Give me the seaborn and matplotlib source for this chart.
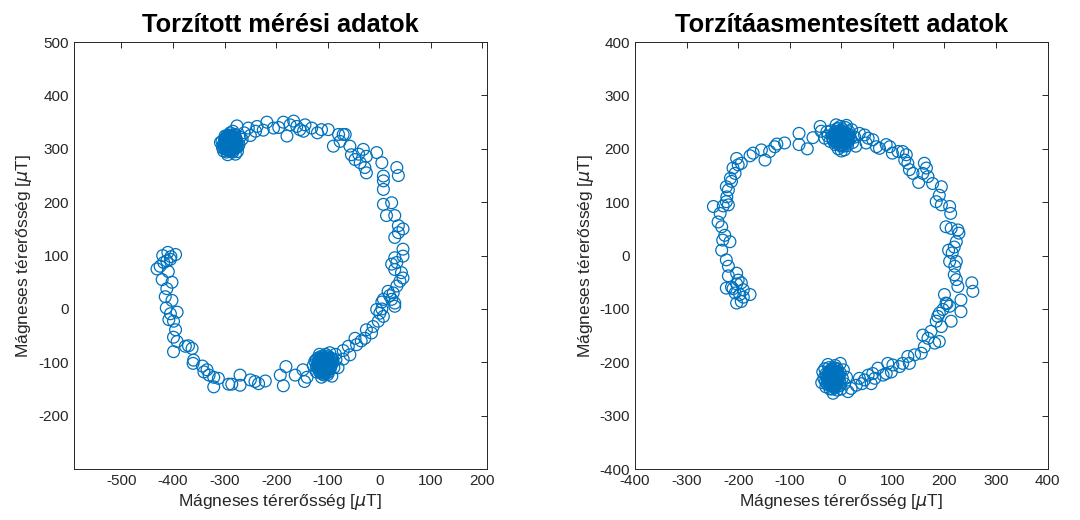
import seaborn as sns
import pandas as pd
import matplotlib.pyplot as plt

left_arc = [
    (-431, 75), (-418, 87), (-405, 93), (-421, 55), (-402, 50), (-412, 38), (-415, 23),
    (-402, 16), (-413, 2), (-405, -9), (-392, -6), (-408, -20), (-399, -23), (-395, -39),
    (-399, -53), (-392, -61), (-399, -80), (-376, -70), (-370, -69), (-363, -74),
    (-360, -96), (-361, -102), (-343, -107), (-340, -118), (-334, -114), (-330, -124),
    (-321, -128), (-321, -146), (-312, -130), (-292, -141), (-286, -141), (-270, -124),
    (-270, -143), (-250, -133), (-241, -136), (-234, -140), (-221, -135), (-192, -124),
    (-181, -108), (-186, -144), (-163, -124), (-148, -114), (-145, -136), (-140, -128),
    (-420, 100), (-410, 106), (-404, 98), (-395, 102), (-412, 90), (-425, 80), (-409, 70),
    (-70, -78), (-70, -94), (-57, -86), (-60, -70), (-47, -55), (-44, -67), (-28, -55),
    (-25, -39), (-12, -33), (-2, -23), (1, -8), (-5, -1), (8, -14), (5, 13), (8, 18),
    (17, 33), (27, 30), (30, 11), (30, 5), (24, 18), (34, 43), (40, 52), (46, 58),
    (43, 68), (24, 84), (34, 87), (30, 74), (-85, -85), (-80, -110), (-90, -95),
    (-35, -60), (-15, -45), (5, 0), (20, 25),
    (30, 96), (46, 99), (46, 112), (37, 143), (30, 134), (46, 150), (37, 156), (30, 175),
    (14, 175), (24, 199), (8, 196), (8, 224), (8, 240), (8, 249), (37, 250), (34, 265),
    (-25, 255), (5, 274), (-5, 293), (-25, 286), (-28, 265), (-37, 274), (-31, 299),
    (-47, 280), (-54, 289), (-57, 305), (-66, 327), (-76, 314), (-89, 305), (-70, 327),
    (-79, 327), (-99, 336), (-112, 336), (-147, 333), (-131, 339), (-144, 345),
    (-154, 336), (-166, 352), (-179, 324), (-173, 345), (-186, 350), (-205, 339),
    (-218, 350), (-237, 342), (-254, 339), (-276, 343), (-262, 330), (-250, 325),
    (-240, 333), (-225, 335), (-195, 340), (-160, 342), (-120, 330), (-40, 290),
]
left_blob_a = [
    (-300, 318), (-295, 322), (-290, 325), (-285, 320), (-280, 316), (-298, 310),
    (-292, 313), (-286, 309), (-282, 305), (-276, 312), (-305, 314), (-300, 306),
    (-294, 303), (-288, 300), (-283, 298), (-278, 302), (-272, 308), (-302, 296),
    (-296, 294), (-290, 298), (-284, 294), (-279, 290), (-293, 318), (-287, 316),
    (-281, 326), (-297, 300), (-291, 308), (-285, 311), (-308, 312), (-270, 322),
    (-289, 330), (-284, 333), (-294, 289), (-280, 327), (-299, 324), (-286, 305),
    (-275, 295), (-292, 315), (-266, 318), (-304, 302),
    (-289, 312), (-293, 310), (-285, 314), (-289, 307), (-289, 317), (-296, 313),
    (-282, 311), (-291, 304), (-287, 320), (-294, 306), (-284, 318), (-298, 316),
    (-280, 308), (-288, 303), (-290, 321), (-286, 299), (-295, 298), (-281, 300),
    (-301, 311), (-277, 318), (-292, 326), (-283, 323), (-297, 320), (-279, 321),
    (-303, 307), (-274, 304), (-288, 295), (-300, 300), (-278, 312), (-296, 324),
    (-291, 311), (-287, 313), (-290, 309), (-288, 315), (-292, 317), (-286, 307),
    (-294, 312), (-284, 310), (-290, 302), (-288, 319), (-297, 308), (-281, 315),
    (-293, 322), (-283, 304), (-299, 313), (-279, 311), (-289, 323), (-287, 297),
    (-295, 317), (-282, 319), (-298, 304), (-276, 307), (-291, 299), (-285, 325),
]
left_blob_b = [
    (-112, -102), (-106, -98), (-100, -95), (-118, -100), (-110, -90), (-104, -108),
    (-96, -104), (-115, -112), (-108, -115), (-100, -112), (-122, -108), (-94, -92),
    (-113, -94), (-107, -105), (-101, -100), (-119, -92), (-110, -122), (-98, -118),
    (-125, -98), (-90, -100), (-104, -85), (-116, -85), (-96, -82), (-112, -128),
    (-122, -118), (-88, -110), (-106, -92), (-102, -120), (-128, -106), (-92, -126),
    (-117, -105), (-109, -98), (-99, -108), (-84, -95), (-114, -120),
    (-106, -103), (-110, -106), (-103, -99), (-108, -110), (-101, -105), (-112, -98),
    (-105, -113), (-98, -100), (-114, -108), (-107, -95), (-111, -115), (-97, -110),
    (-116, -96), (-103, -92), (-109, -118), (-95, -97), (-119, -110), (-102, -116),
    (-113, -89), (-99, -88), (-120, -103), (-93, -106), (-106, -120), (-117, -116),
    (-100, -123), (-91, -94), (-122, -95), (-104, -104), (-108, -100), (-111, -111),
    (-107, -104), (-105, -101), (-109, -107), (-103, -106), (-110, -102), (-104, -97),
    (-112, -109), (-100, -102), (-106, -111), (-108, -96), (-115, -104), (-97, -104),
    (-102, -109), (-113, -99), (-105, -117), (-99, -95), (-117, -110), (-95, -112),
    (-110, -93), (-101, -90), (-118, -97), (-94, -100), (-107, -124), (-114, -115),
]

right_arc = [
    (-248, 92), (-235, 79), (-239, 63), (-232, 54), (-226, 38), (-230, 29), (-216, 26),
    (-232, 10), (-223, 101), (-219, 95), (-229, 93), (-219, 123), (-223, 129),
    (-213, 139), (-206, 154), (-210, 164), (-203, 182), (-194, 173), (-177, 187),
    (-171, 192), (-155, 198), (-148, 179), (-139, 195), (-129, 204), (-125, 209),
    (-110, 211), (-82, 229), (-82, 208), (-66, 200), (-55, 221), (-41, 242),
    (-39, 233), (-32, 220), (35, 229), (45, 226), (52, 220), (48, 211), (61, 217),
    (68, 204), (74, 201), (87, 208), (94, 204), (99, 192), (110, 195), (119, 195),
    (126, 189), (123, 179), (129, 173), (132, 161), (139, 154), (150, 137), (158, 154),
    (161, 173), (165, 164), (168, 148), (177, 135), (194, 129), (190, 113), (184, 101),
    (194, 95), (210, 92), (212, 79), (203, 54), (213, 51), (226, 48), (223, 26),
    (219, 16), (208, 10), (228, 42), (-215, 145), (-200, 170), (-222, 110),
    (-223, -8), (-219, -20), (-219, -38), (-203, -33), (-200, -46), (-223, -61),
    (-213, -59), (-203, -53), (-194, -51), (-206, -70), (-197, -73), (-177, -73),
    (-190, -64), (-203, -89), (-194, -86), (-190, -78), (-210, -62),
    (210, -11), (223, -11), (219, -36), (223, -45), (226, -58), (232, -83),
    (232, -105), (253, -51), (255, -67), (200, -73), (203, -89), (210, -95),
    (197, -101), (213, -123), (190, -108), (187, -114), (184, -123), (194, -133),
    (190, -161), (181, -164), (174, -142), (168, -155), (158, -149), (161, -171),
    (155, -183), (142, -186), (129, -189), (132, -202), (119, -202), (113, -208),
    (100, -205), (90, -202), (97, -218), (87, -221), (81, -224), (71, -211),
    (61, -221), (58, -240), (52, -224), (45, -233), (35, -230), (29, -243),
    (19, -249), (13, -255), (205, -90), (220, -20), (215, 5), (40, -240), (65, -230),
]
right_blob_a = [
    (0, 223), (-6, 228), (6, 226), (-10, 218), (10, 215), (-4, 212), (4, 232),
    (-14, 230), (14, 228), (-18, 222), (18, 220), (-8, 238), (8, 240), (0, 205),
    (-12, 208), (12, 206), (-22, 214), (22, 212), (-2, 242), (-20, 234), (20, 236),
    (-6, 200), (6, 198), (-26, 224), (26, 222), (2, 218), (-3, 226), (5, 210),
    (-15, 215), (15, 232), (0, 196), (-28, 232), (28, 205), (10, 244), (-10, 245),
    (0, 220), (-4, 222), (4, 219), (-2, 216), (2, 226), (-7, 215), (7, 223),
    (-9, 225), (9, 217), (-1, 230), (1, 211), (-12, 220), (12, 221), (-5, 233),
    (5, 205), (-8, 210), (8, 230), (-14, 224), (14, 214), (-3, 207), (3, 236),
    (-16, 218), (16, 226), (-10, 232), (10, 210), (-6, 238), (6, 214),
    (1, 222), (-2, 224), (3, 220), (-1, 218), (0, 227), (-5, 219), (5, 224),
    (-3, 229), (3, 214), (-7, 222), (7, 218), (-4, 214), (4, 228), (-9, 228),
    (9, 224), (-11, 214), (11, 226), (-2, 235), (2, 208), (-12, 226), (12, 216),
]
right_blob_b = [
    (-16, -227), (-22, -222), (-10, -222), (-26, -230), (-6, -232), (-20, -236),
    (-12, -238), (-30, -222), (-2, -220), (-18, -214), (-8, -212), (-28, -240),
    (-4, -244), (-16, -246), (-34, -230), (2, -230), (-24, -210), (-12, -206),
    (-22, -250), (-8, -252), (-36, -218), (6, -240), (-14, -230), (-20, -226),
    (-10, -230), (-30, -246), (4, -214), (-16, -258), (-26, -204), (10, -228),
    (-38, -238), (-2, -202), (-18, -218), (0, -250), (-32, -212),
    (-16, -230), (-13, -225), (-19, -231), (-15, -220), (-17, -236), (-11, -233),
    (-21, -228), (-9, -226), (-23, -234), (-14, -240), (-18, -222), (-7, -236),
    (-25, -224), (-12, -216), (-20, -242), (-5, -228), (-27, -233), (-16, -214),
    (-10, -244), (-24, -218), (-3, -236), (-29, -228), (-13, -248), (-21, -214),
    (-6, -220), (-31, -236), (-17, -250), (-8, -240), (-26, -242), (-14, -210),
    (-15, -228), (-17, -225), (-14, -233), (-18, -229), (-12, -228), (-20, -232),
    (-11, -222), (-22, -226), (-13, -236), (-19, -220), (-9, -231), (-24, -230),
    (-16, -239), (-15, -217), (-7, -229), (-26, -236), (-11, -241), (-21, -219),
    (-5, -224), (-28, -225), (-18, -244), (-9, -218), (-23, -240), (-13, -212),
]

left_pts = left_arc + left_blob_a + left_blob_b
right_pts = right_arc + right_blob_a + right_blob_b

titles = ["Torzított mérési adatok", "Torzítáasmentesített adatok"]
label = "Mágneses térerősség [$\\mu$T]"
matlab_blue = "#0072BD"

sns.set_style("white")
plt.rcParams["font.family"] = ["Liberation Sans", "DejaVu Sans"]
plt.rcParams["mathtext.fontset"] = "dejavusans"
plt.rcParams["axes.unicode_minus"] = False

fig = plt.figure(figsize=(10.8, 5.2), dpi=100)
ax1 = fig.add_axes([0.0685, 0.098, 0.382, 0.821])
ax2 = fig.add_axes([0.588, 0.098, 0.382, 0.821])

for ax, pts, title in [(ax1, left_pts, titles[0]), (ax2, right_pts, titles[1])]:
    df = pd.DataFrame(pts, columns=["x", "y"])
    sns.scatterplot(data=df, x="x", y="y", ax=ax, marker="o", s=72,
                    facecolor="none", edgecolor=matlab_blue, linewidth=0.9)
    ax.set_title(title, fontsize=18.3, fontweight="bold", color="black", pad=7)
    ax.set_xlabel(label, fontsize=12.5, color="#262626", labelpad=3)
    ax.set_ylabel(label, fontsize=12.5, color="#262626", labelpad=3)
    ax.tick_params(direction="in", length=4.5, width=0.7, top=True, right=True,
                   labelsize=11, colors="#262626")
    for sp in ax.spines.values():
        sp.set_color("#262626")
        sp.set_linewidth(0.7)

ax1.set_xlim(-592, 208)
ax1.set_ylim(-300, 500)
ax1.set_xticks(range(-500, 201, 100))
ax1.set_yticks(range(-200, 501, 100))

ax2.set_xlim(-400, 400)
ax2.set_ylim(-400, 400)
ax2.set_xticks(range(-400, 401, 100))
ax2.set_yticks(range(-400, 401, 100))

plt.savefig("out.png", dpi=100)
